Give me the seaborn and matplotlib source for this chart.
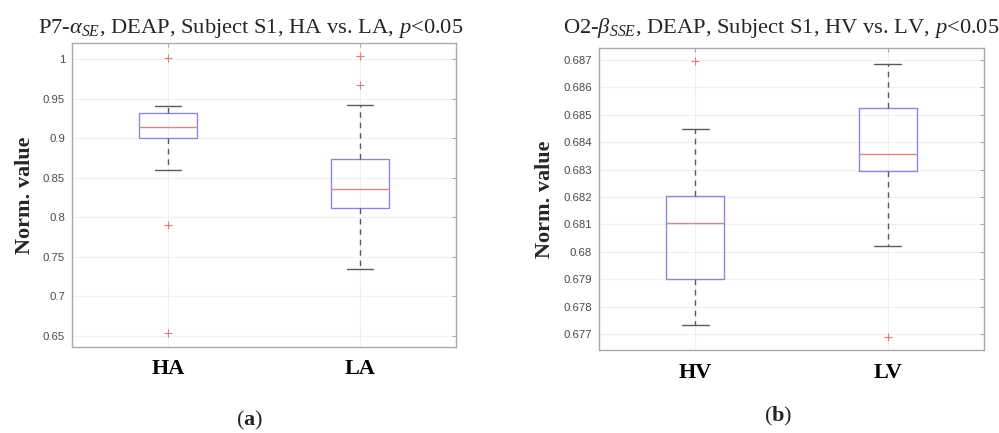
import numpy as np
import pandas as pd
import seaborn as sns
import matplotlib.pyplot as plt
from matplotlib.ticker import FuncFormatter

# Panel (a): P7 alpha_SE, HA vs LA
groups_a = ["HA", "LA"]
q1_a = [0.9000, 0.8114]
med_a = [0.9147, 0.8354]
q3_a = [0.9316, 0.8734]
wlo_a = [0.860, 0.735]
whi_a = [0.941, 0.942]
fliers_a = [[1.001, 0.790, 0.654], [1.004, 0.968]]

# Panel (b): O2 beta_SSE, HV vs LV
groups_b = ["HV", "LV"]
q1_b = [0.67900, 0.68296]
med_b = [0.68106, 0.68358]
q3_b = [0.68205, 0.68524]
wlo_b = [0.67733, 0.68021]
whi_b = [0.68447, 0.68686]
fliers_b = [[0.68694], [0.67690]]

sns.set_style("whitegrid")
plt.rcParams["font.family"] = ["Liberation Serif", "DejaVu Serif"]
plt.rcParams["mathtext.fontset"] = "custom"
plt.rcParams["mathtext.rm"] = "Liberation Serif"
plt.rcParams["mathtext.it"] = "Liberation Serif:italic"
plt.rcParams["mathtext.bf"] = "Liberation Serif:bold"

W, H = 999, 433
fig = plt.figure(figsize=(W / 100, H / 100), dpi=100)

BOX_C = "#8a8ad6"
MED_C = "#e48585"
WHISK_C = "#5a5a5a"
GRID_C = "#f0f0f0"
SPINE_C = "#aaaaaa"
TICK_C = "#4a4a4a"


def panel(rect, groups, q1, med, q3, wlo, whi, fliers, yticks, ylim):
    ax = fig.add_axes([rect[0] / W, 1 - rect[3] / H, (rect[2] - rect[0]) / W, (rect[3] - rect[1]) / H])
    stats = []
    for i, g in enumerate(groups):
        stats.append({"label": g, "q1": q1[i], "med": med[i], "q3": q3[i],
                      "whislo": wlo[i], "whishi": whi[i], "fliers": []})
    ax.bxp(stats, positions=[1, 2], widths=0.3, showfliers=False, capwidths=0.14,
           boxprops=dict(color=BOX_C, lw=1.0),
           medianprops=dict(color=MED_C, lw=1.0),
           whiskerprops=dict(color=WHISK_C, lw=1.0, linestyle=(0, (4, 3.5))),
           capprops=dict(color=WHISK_C, lw=1.0))
    # outliers
    rows = [(i + 1, v) for i, fl in enumerate(fliers) for v in fl]
    df = pd.DataFrame(rows, columns=["pos", "value"])
    sns.scatterplot(data=df, x="pos", y="value", marker="+", color="#e27a7a",
                    s=30, linewidth=0.8, ax=ax, zorder=5)
    ax.set_xlim(0.5, 2.5)
    ax.set_ylim(*ylim)
    ax.set_xticks([1, 2])
    ax.set_xticklabels(groups, fontsize=16, fontweight="bold", color="black")
    ax.set_yticks(yticks)
    ax.yaxis.set_major_formatter(FuncFormatter(lambda v, p: "%g" % round(v, 6)))
    for t in ax.get_yticklabels():
        t.set_fontfamily("Liberation Sans")
        t.set_fontsize(8.2)
        t.set_color(TICK_C)
    ax.tick_params(axis="x", pad=9, length=3, direction="in", top=True, colors=SPINE_C, labelcolor="black")
    ax.tick_params(axis="y", pad=5, length=3, direction="in", right=True, colors=SPINE_C, labelcolor=TICK_C)
    ax.grid(True, color=GRID_C, lw=0.8)
    for s in ax.spines.values():
        s.set_color(SPINE_C)
        s.set_linewidth(1.0)
    ax.set_xlabel("")
    ax.set_ylabel("Norm. value", fontsize=16, fontweight="bold", labelpad=6)
    return ax


ax1 = panel((72, 43, 456, 347), groups_a, q1_a, med_a, q3_a, wlo_a, whi_a, fliers_a,
            np.round(np.arange(0.65, 1.001, 0.05), 2), (0.636, 1.0206))
ax2 = panel((599, 48, 984, 350), groups_b, q1_b, med_b, q3_b, wlo_b, whi_b, fliers_b,
            np.round(np.arange(0.677, 0.6871, 0.001), 3), (0.67642, 0.68743))

fig.text(251 / W, 1 - 33.5 / H, r"P7-$\alpha_{\mathit{SE}}$, DEAP, Subject S1, HA vs. LA, $p$<0.05",
         ha="center", va="baseline", fontsize=16.2)
fig.text(781 / W, 1 - 33.5 / H, r"O2-$\beta_{\mathit{SSE}}$, DEAP, Subject S1, HV vs. LV, $p$<0.05",
         ha="center", va="baseline", fontsize=16.2)

fig.text(250 / W, 1 - 420 / H, r"($\mathbf{a}$)", ha="center", va="center", fontsize=16)
fig.text(778 / W, 1 - 416 / H, r"($\mathbf{b}$)", ha="center", va="center", fontsize=16)

fig.savefig("out.png", dpi=100)
